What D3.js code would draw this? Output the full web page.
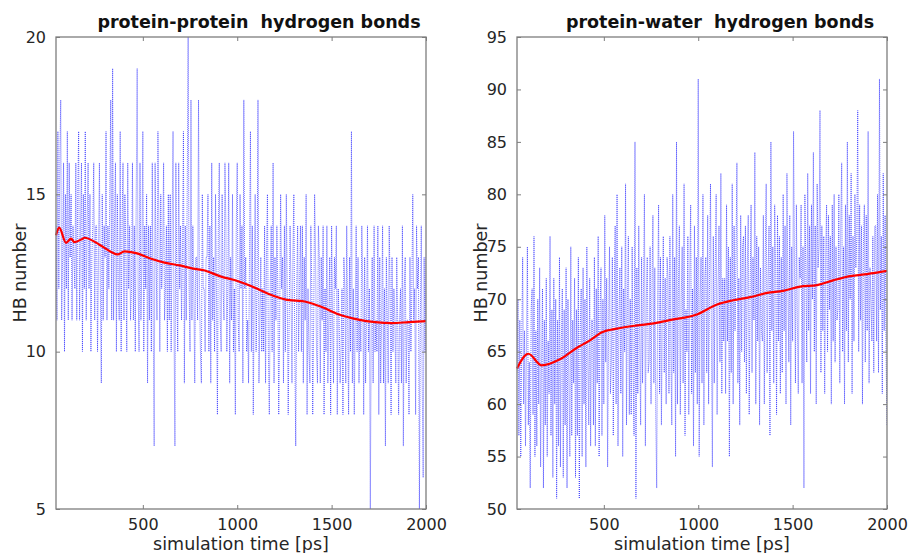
<!DOCTYPE html>
<html>
<head>
<meta charset="utf-8">
<script src="https://cdn.jsdelivr.net/npm/d3@7"></script>
<style>
  html, body { margin: 0; padding: 0; background: #fff; }
  svg { display: block; font-family: "DejaVu Sans", sans-serif; }
</style>
</head>
<body>
<svg id="chart" width="909" height="553"></svg>
<script>
// Sampling grid of the trajectory (ps)
const sampleStart = 40;
const sampleStep = 5;

// Protein-protein hydrogen bond count per frame
const ppCounts = [
  14,11,17,12,16,18,11,13,16,10,15,12,17,11,16,13,15,11,14,13,
  12,16,11,15,17,11,14,16,10,15,12,17,11,14,16,12,15,10,13,14,
  16,11,14,14,10,13,16,12,9,15,11,14,13,17,11,14,12,15,18,11,
  19,11,14,16,10,15,12,11,17,10,14,16,11,15,13,10,16,12,14,11,
  12,16,11,14,10,15,19,12,10,16,11,13,17,10,14,12,15,9,14,11,
  14,10,16,11,7,16,13,11,17,14,10,15,12,13,16,11,12,14,10,15,
  11,15,10,14,17,11,7,16,12,10,16,12,14,11,13,17,9,14,11,15,
  20,12,10,18,11,14,12,9,13,13,11,18,12,10,9,15,12,12,10,13,
  13,15,10,14,9,16,11,13,10,15,12,8,14,16,11,10,15,12,11,16,
  14,10,12,16,9,13,11,15,10,12,8,14,16,11,10,15,12,14,9,18,
  12,13,10,11,9,13,17,10,14,8,12,15,10,12,18,9,11,13,10,12,
  10,14,9,13,15,10,8,12,14,10,16,9,13,11,14,12,8,11,15,12,
  13,9,14,10,15,12,8,11,14,12,9,13,15,10,7,12,14,10,12,14,
  10,14,9,13,11,15,8,12,10,9,14,12,8,11,15,13,10,9,14,13,
  9,13,11,14,8,12,10,14,9,11,13,8,14,11,9,13,12,14,8,12,
  11,9,10,12,8,13,12,9,14,11,8,13,10,17,9,12,8,11,14,10,
  13,9,11,10,14,12,8,13,9,11,14,10,12,5,11,13,9,14,10,11,
  10,14,8,13,9,11,14,9,12,7,13,11,9,14,12,8,13,10,12,11,
  9,13,11,8,11,12,9,14,7,12,13,9,11,11,8,13,10,12,15,11,
  12,8,14,12,13,5,11,14,9,6,13,10,13
];

// Protein-water hydrogen bond count per frame
const pwCounts = [
  63,70,57,68,55,66,74,60,67,56,65,75,58,64,52,69,71,59,76,55,
  67,56,70,60,73,54,64,71,52,68,58,72,55,66,61,76,57,69,53,72,
  60,70,51,68,56,74,54,66,71,53,69,58,73,52,70,62,55,75,57,68,
  62,72,53,69,57,74,51,67,71,55,73,60,70,54,75,64,58,72,56,68,
  68,58,74,56,71,62,76,55,69,73,57,70,60,78,64,72,54,67,75,61,
  64,74,57,70,77,60,80,56,68,73,61,75,55,71,65,81,58,70,76,59,
  70,59,75,63,57,85,51,73,61,77,66,58,74,62,71,80,56,70,74,63,
  64,75,60,71,78,62,73,59,52,70,79,61,74,58,69,76,63,72,60,74,
  72,61,76,65,58,80,63,74,55,85,60,71,77,59,70,75,62,81,57,69,
  65,76,59,72,79,61,71,56,77,63,74,60,91,55,70,74,62,80,58,72,
  74,63,78,60,72,81,66,54,76,62,73,80,59,71,77,64,82,61,72,66,
  72,61,79,66,75,55,74,63,81,60,77,67,74,83,62,72,58,78,65,75,
  76,64,77,61,73,78,59,71,79,63,74,68,84,60,76,66,75,58,73,67,
  66,78,60,74,81,63,72,77,57,85,67,75,62,79,73,59,78,66,76,61,
  74,63,80,67,77,60,82,71,64,78,58,75,66,86,73,62,79,68,61,74,
  72,79,62,75,52,80,73,64,82,67,77,61,79,70,84,65,77,60,81,73,
  75,88,63,77,67,76,61,74,79,65,78,69,76,60,79,66,80,64,75,68,
  69,80,62,77,83,65,75,60,79,67,85,64,78,70,82,61,76,66,80,73,
  76,88,65,79,68,77,60,75,79,64,78,67,86,62,73,70,66,76,63,77,
  77,66,80,63,91,69,76,61,82,67,78,65,58
];

// Running average (time, value)
const ppAvgTime  = [40, 57, 93, 120, 137, 181, 190, 270, 332, 367, 403, 465, 536, 615, 695, 766, 828, 907, 1005, 1076, 1164, 1253, 1368, 1448, 1536, 1642, 1731, 1820, 1908, 2000];
const ppAvgValue = [13.7, 13.94, 13.46, 13.59, 13.48, 13.59, 13.62, 13.4, 13.17, 13.09, 13.19, 13.13, 12.97, 12.83, 12.74, 12.64, 12.58, 12.4, 12.24, 12.08, 11.84, 11.66, 11.58, 11.42, 11.19, 11.02, 10.94, 10.91, 10.94, 10.97];

const pwAvgTime  = [40, 100, 170, 270, 360, 420, 490, 570, 675, 765, 850, 1000, 1100, 1185, 1275, 1365, 1450, 1540, 1630, 1715, 1805, 1895, 2000];
const pwAvgValue = [63.4, 64.8, 63.7, 64.3, 65.4, 66.0, 66.85, 67.2, 67.5, 67.7, 68.0, 68.6, 69.5, 69.9, 70.2, 70.6, 70.8, 71.2, 71.35, 71.8, 72.2, 72.4, 72.7];

// Axis ticks
const xTicks = [500, 1000, 1500, 2000];
const ppYTicks = [5, 10, 15, 20];
const pwYTicks = [50, 55, 60, 65, 70, 75, 80, 85, 90, 95];

const ppTitle = "protein-protein  hydrogen bonds";
const pwTitle = "protein-water  hydrogen bonds";
const xLabel = "simulation time [ps]";
const yLabel = "HB number";

const svg = d3.select("#chart");

function drawPanel(cfg) {
  const { left, right, top, bottom, yDomain, yTicks, counts, avgT, avgV, title, id } = cfg;
  const x = d3.scaleLinear().domain([sampleStart, 2000]).range([left, right]);
  const y = d3.scaleLinear().domain(yDomain).range([bottom, top]);
  const g = svg.append("g");

  g.append("clipPath").attr("id", id)
    .append("rect").attr("x", left).attr("y", top - 1)
    .attr("width", right - left).attr("height", bottom - top + 2);

  const pts = counts.map((v, i) => [sampleStart + i * sampleStep, v]);

  // per-frame counts: thin dotted blue trace
  g.append("path")
    .datum(pts)
    .attr("clip-path", `url(#${id})`)
    .attr("fill", "none")
    .attr("stroke", "#0000ff")
    .attr("stroke-opacity", 0.58)
    .attr("stroke-width", 1)
    .attr("stroke-dasharray", "1,1")
    .attr("d", d3.line().x(d => x(d[0])).y(d => y(d[1])));

  // running average: red
  const avg = avgT.map((t, i) => [t, avgV[i]]);
  g.append("path")
    .datum(avg)
    .attr("fill", "none")
    .attr("stroke", "#ff0000")
    .attr("stroke-width", 2.2)
    .attr("stroke-linejoin", "round")
    .attr("d", d3.line().curve(d3.curveMonotoneX).x(d => x(d[0])).y(d => y(d[1])));

  // axes box with inward ticks on all four sides
  const axisColor = "#7d7d7d";
  const tickFont = 16;
  const fmt = d3.format("d");
  const axB = d3.axisBottom(x).tickValues(xTicks).tickFormat(fmt).tickSizeInner(-4).tickSizeOuter(0).tickPadding(10);
  const axT = d3.axisTop(x).tickValues(xTicks).tickSizeInner(-4).tickSizeOuter(0).tickFormat("");
  const axL = d3.axisLeft(y).tickValues(yTicks).tickFormat(fmt).tickSizeInner(-4).tickSizeOuter(0).tickPadding(10);
  const axR = d3.axisRight(y).tickValues(yTicks).tickSizeInner(-4).tickSizeOuter(0).tickFormat("");

  const style = sel => {
    sel.select(".domain").remove();
    sel.selectAll("line").attr("stroke", axisColor).attr("stroke-width", 1);
    sel.selectAll("text").attr("fill", "#262626").style("font-size", tickFont + "px")
      .style("font-family", "'DejaVu Sans', sans-serif");
  };
  g.append("g").attr("transform", `translate(0,${bottom})`).call(axB).call(style);
  g.append("g").attr("transform", `translate(0,${top})`).call(axT).call(style);
  g.append("g").attr("transform", `translate(${left},0)`).call(axL).call(style);
  g.append("g").attr("transform", `translate(${right},0)`).call(axR).call(style);

  g.append("rect")
    .attr("x", left).attr("y", top)
    .attr("width", right - left).attr("height", bottom - top)
    .attr("fill", "none").attr("stroke", axisColor).attr("stroke-width", 1.3);

  g.append("text")
    .attr("x", (left + right) / 2 + 18).attr("y", 28)
    .attr("text-anchor", "middle")
    .style("font-size", "17.5px").style("font-weight", "bold")
    .style("white-space", "pre")
    .attr("fill", "#111")
    .text(title);

  g.append("text")
    .attr("x", (left + right) / 2).attr("y", 550)
    .attr("text-anchor", "middle")
    .style("font-size", "17.5px")
    .attr("fill", "#262626")
    .text(xLabel);

  g.append("text")
    .attr("transform", `translate(${left - 30},${(top + bottom) / 2}) rotate(-90)`)
    .attr("text-anchor", "middle")
    .style("font-size", "17.5px")
    .attr("fill", "#262626")
    .text(yLabel);
}

drawPanel({
  id: "clipPP", left: 56, right: 426, top: 37, bottom: 509,
  yDomain: [5, 20], yTicks: ppYTicks, counts: ppCounts,
  avgT: ppAvgTime, avgV: ppAvgValue, title: ppTitle
});

drawPanel({
  id: "clipPW", left: 517, right: 887, top: 37, bottom: 509,
  yDomain: [50, 95], yTicks: pwYTicks, counts: pwCounts,
  avgT: pwAvgTime, avgV: pwAvgValue, title: pwTitle
});
</script>
</body>
</html>
